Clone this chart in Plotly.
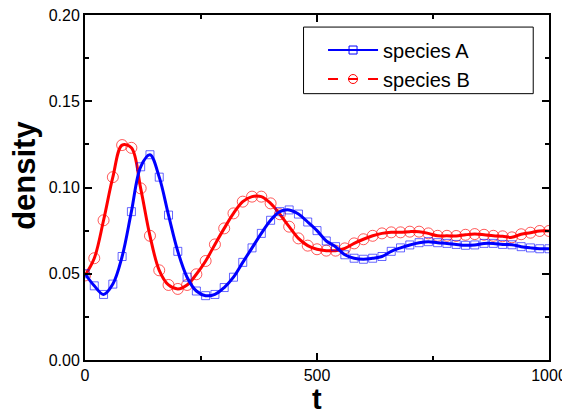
import plotly.graph_objects as go

t = list(range(0, 1001, 20))

species_a = [0.050, 0.043, 0.038, 0.044, 0.060, 0.086, 0.112, 0.119, 0.106, 0.084,
             0.063, 0.048, 0.040, 0.0373, 0.038, 0.042, 0.048, 0.0566, 0.065, 0.0734,
             0.081, 0.086, 0.087, 0.0846, 0.080, 0.075, 0.069, 0.0657, 0.061, 0.059,
             0.0584, 0.059, 0.060, 0.063, 0.065, 0.0667, 0.068, 0.0686, 0.068, 0.0676,
             0.067, 0.0665, 0.0667, 0.0676, 0.0676, 0.067, 0.0668, 0.0657, 0.065, 0.0645,
             0.0645]

species_b = [0.049, 0.059, 0.081, 0.106, 0.1246, 0.123, 0.0995, 0.072, 0.052, 0.0435,
             0.0412, 0.0435, 0.0497, 0.0574, 0.067, 0.0763, 0.085, 0.0918, 0.0947, 0.0947,
             0.0908, 0.0845, 0.0773, 0.0705, 0.0663, 0.0642, 0.0634, 0.0634, 0.0647, 0.0676,
             0.070, 0.072, 0.0734, 0.074, 0.074, 0.0744, 0.0744, 0.0734, 0.072, 0.072,
             0.0719, 0.0726, 0.073, 0.0726, 0.072, 0.0717, 0.0711, 0.0729, 0.0738, 0.0748,
             0.0748]

series_names = ["species A", "species B"]
x_ticks = [0, 500, 1000]
y_ticks = [0.00, 0.05, 0.10, 0.15, 0.20]

BLUE = "#0000ff"
RED = "#ff0000"
FONT = "Liberation Sans, Arial, sans-serif"

fig = go.Figure()

fig.add_trace(go.Scatter(
    x=t, y=species_b, mode="lines+markers", line=dict(color=RED, width=3, shape="spline"),
    marker=dict(symbol="circle-open", size=11, color="rgba(255,0,0,0.65)", line=dict(width=1)),
    showlegend=False))
fig.add_trace(go.Scatter(
    x=t, y=species_a, mode="lines+markers", line=dict(color=BLUE, width=3, shape="spline"),
    marker=dict(symbol="square-open", size=8, color="rgba(0,0,255,0.6)", line=dict(width=1)),
    showlegend=False))

# legend-only entries
fig.add_trace(go.Scatter(
    x=[None], y=[None], mode="lines+markers", name=series_names[0],
    line=dict(color=BLUE, width=2),
    marker=dict(symbol="square-open", size=8, color=BLUE, line=dict(width=1))))
fig.add_trace(go.Scatter(
    x=[None], y=[None], mode="lines+markers", name=series_names[1],
    line=dict(color=RED, width=2, dash="10px,10px"),
    marker=dict(symbol="circle-open", size=9, color=RED, line=dict(width=1))))

axis_common = dict(
    showline=True, linecolor="black", linewidth=2, mirror="allticks",
    ticks="inside", ticklen=7, tickwidth=1.5, tickcolor="black",
    showgrid=False, zeroline=False, automargin=False, ticklabeloverflow="allow",
    tickfont=dict(family=FONT, size=16, color="black"),
)

fig.update_xaxes(range=[0, 1000], tickvals=x_ticks, ticktext=[str(v) for v in x_ticks],
                 minor=dict(dtick=250, ticks="inside", ticklen=4, tickcolor="black", showgrid=False),
                 **axis_common)
fig.update_yaxes(range=[0, 0.2], tickvals=y_ticks, ticktext=[f"{v:.2f}" for v in y_ticks],
                 minor=dict(dtick=0.025, ticks="inside", ticklen=4, tickcolor="black", showgrid=False),
                 **axis_common)

# axis titles
fig.add_annotation(text="<b>t</b>", xref="paper", yref="paper", x=0.5, y=-0.113,
                   xanchor="center", yanchor="middle", showarrow=False,
                   font=dict(family=FONT, size=29, color="black"))
fig.add_annotation(text="<b>density</b>", xref="paper", yref="paper", x=-0.1305, y=0.535,
                   xanchor="center", yanchor="middle", showarrow=False, textangle=-90,
                   font=dict(family=FONT, size=31, color="black"))

# legend frame
fig.add_shape(type="rect", xref="paper", yref="paper", x0=0.471, x1=0.966, y0=0.772, y1=0.965,
              line=dict(color="black", width=1), fillcolor="rgba(0,0,0,0)")

# the page body adds an 8px offset; figure sized so the plot area lands at the same spot
fig.update_layout(
    width=562, height=406,
    margin=dict(l=77, r=21, t=7, b=54),
    plot_bgcolor="white", paper_bgcolor="white",
    legend=dict(x=0.513, y=0.955, xanchor="left", yanchor="top", bgcolor="rgba(0,0,0,0)",
                borderwidth=0, itemwidth=50, tracegroupgap=0,
                font=dict(family=FONT, size=20, color="black")),
)

fig.write_html("out.html")
